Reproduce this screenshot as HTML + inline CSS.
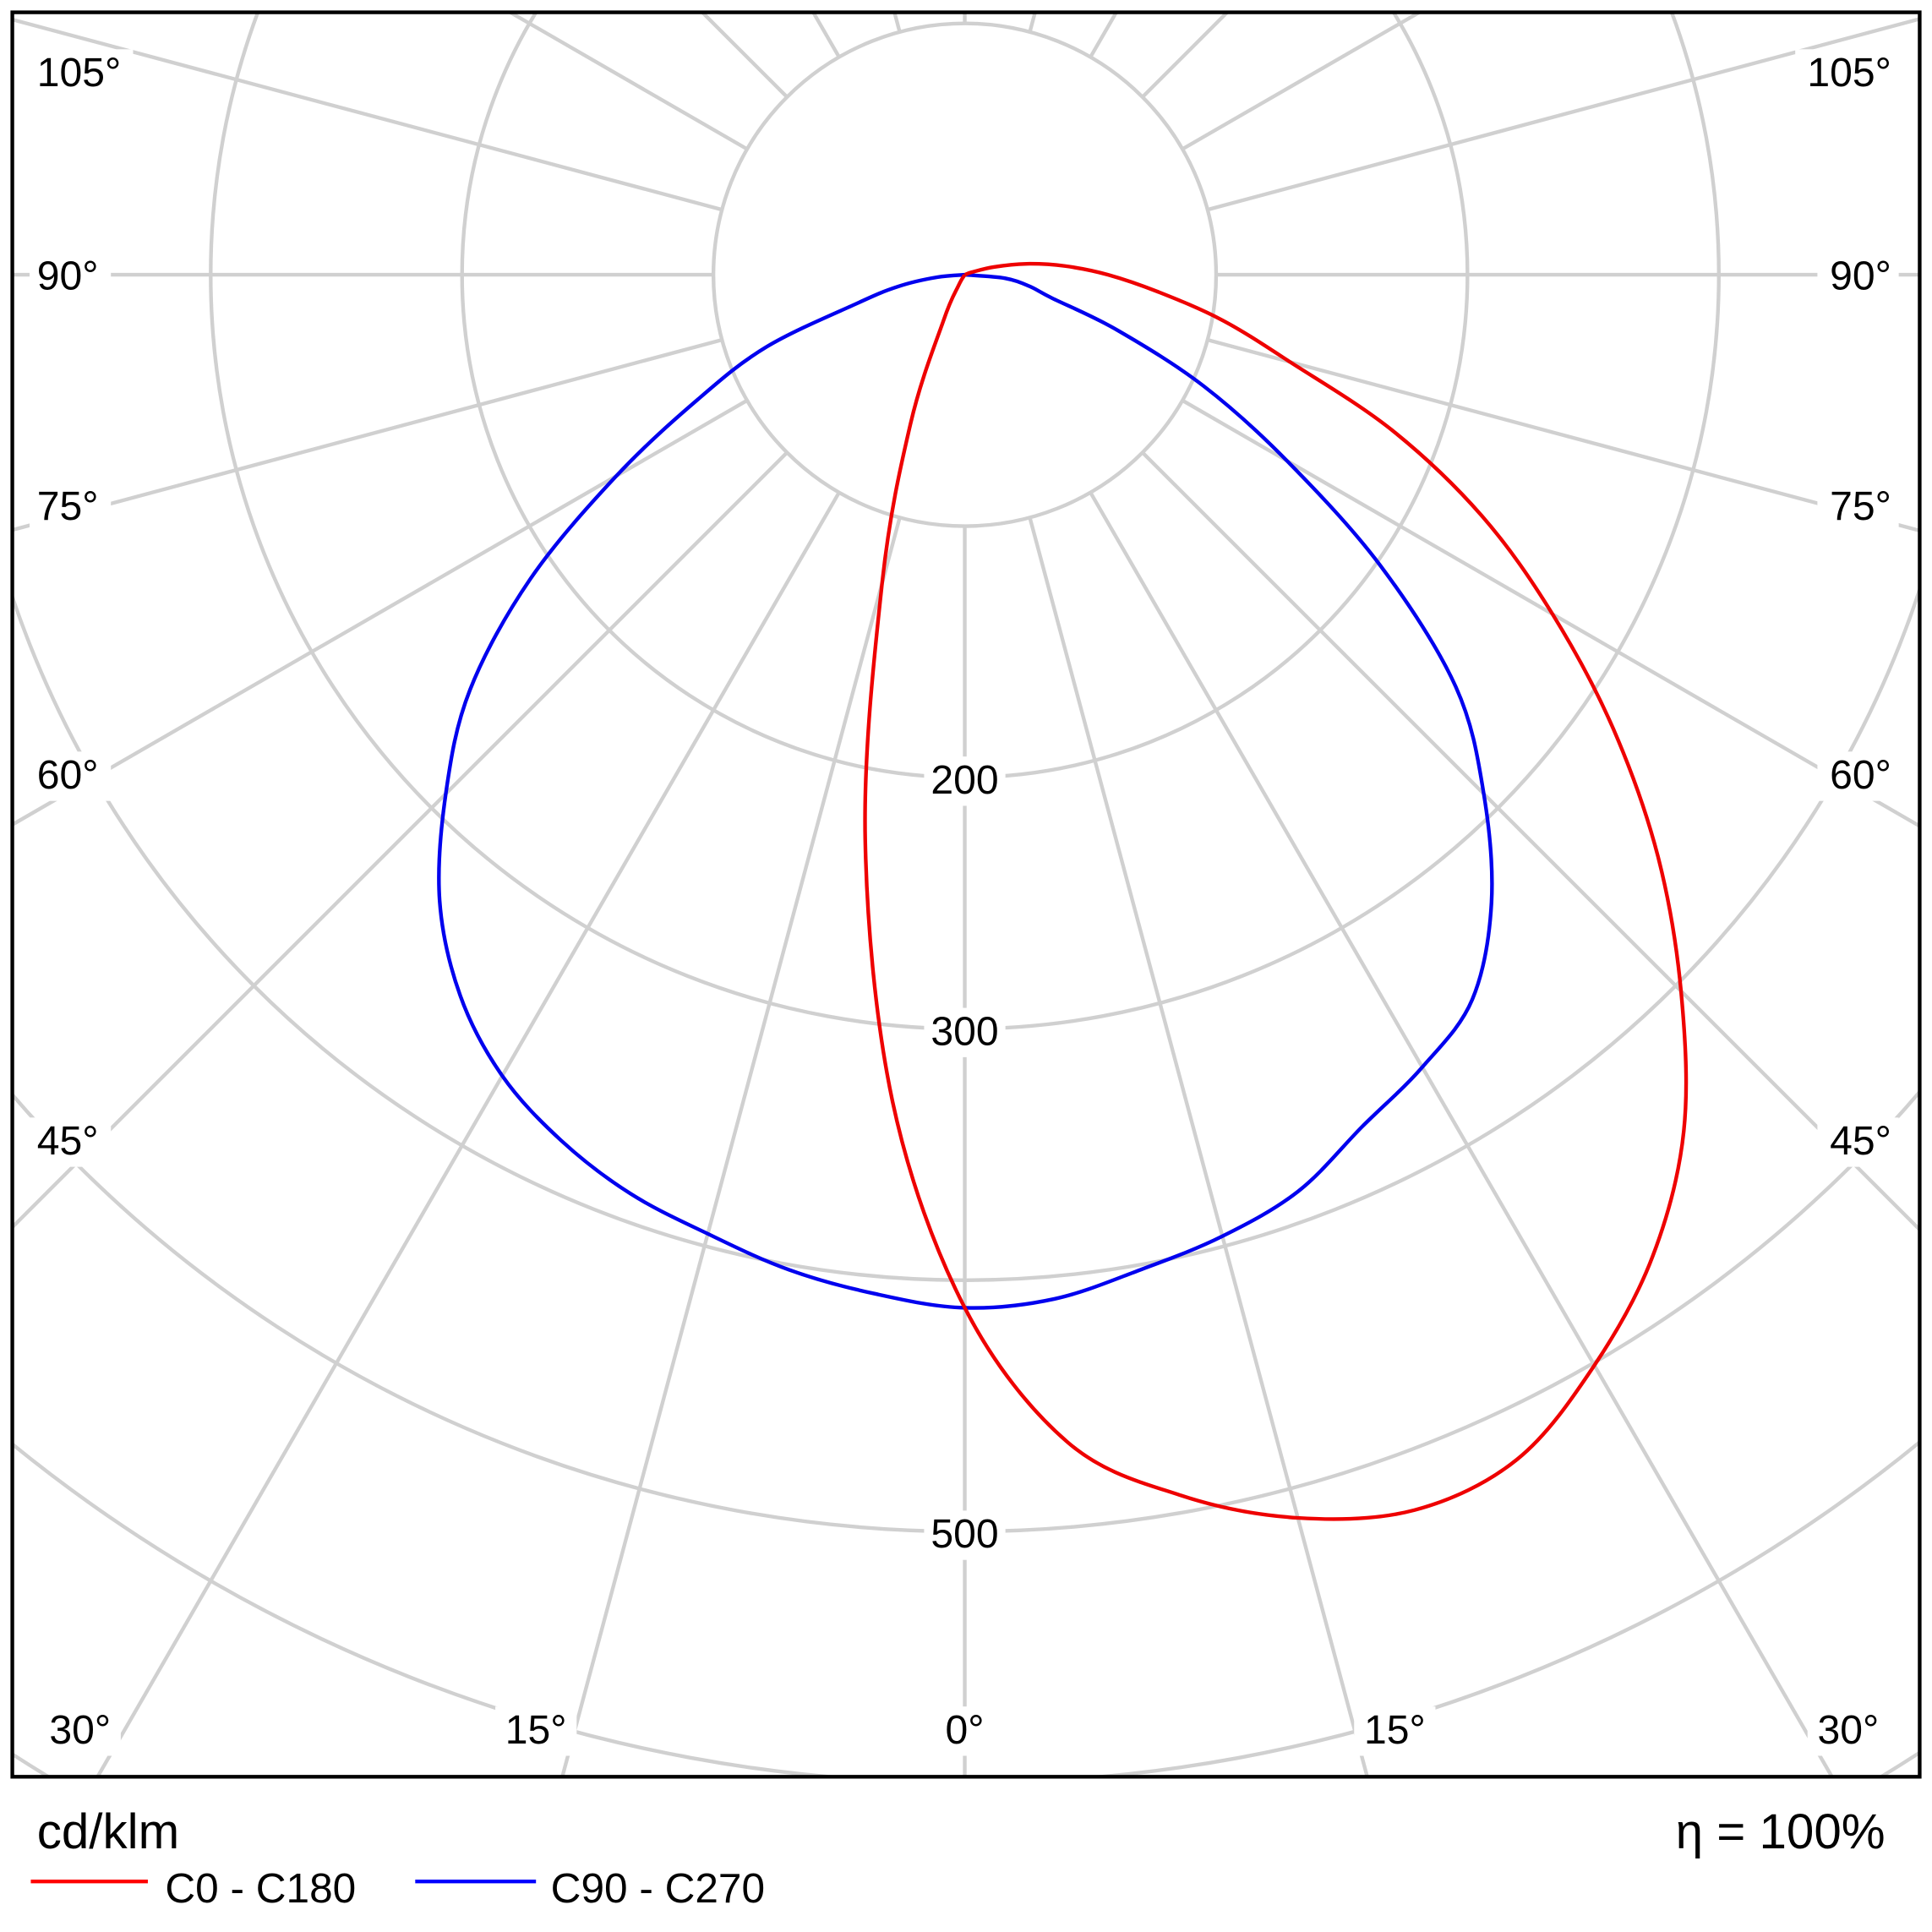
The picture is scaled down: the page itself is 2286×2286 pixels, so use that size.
<!DOCTYPE html>
<html><head><meta charset="utf-8"><style>
html,body{margin:0;padding:0;background:#fff;overflow:hidden;width:2286px;height:2286px;}
svg{display:block;}
text{font-family:"Liberation Sans","DejaVu Sans",sans-serif;}
</style></head><body>
<svg id="chart" width="2286" height="2286" viewBox="0 0 1568 1568" xmlns="http://www.w3.org/2000/svg">
<defs><clipPath id="clip"><rect x="10" y="10" width="1548" height="1432"/></clipPath></defs>
<rect x="0" y="0" width="1568" height="1568" fill="#fff"/>
<g id="grid" clip-path="url(#clip)"></g>
<g id="series" clip-path="url(#clip)"></g>
<g id="labels"></g>
<rect x="10" y="10" width="1548" height="1432" fill="none" stroke="#000" stroke-width="3"/>
<text x="30" y="1500" font-size="40">cd/klm</text>
<text x="1530" y="1500" font-size="40" text-anchor="end">η = 100%</text>
<line x1="25" y1="1527" x2="120" y2="1527" stroke="#f00" stroke-width="3"/>
<text x="134" y="1544" font-size="34">C0 - C180</text>
<line x1="337" y1="1527" x2="435" y2="1527" stroke="#00f" stroke-width="3"/>
<text x="447" y="1544" font-size="34">C90 - C270</text>
</svg>
<script>
const gammaAngles=[0,5,10,15,20,25,30,35,40,45,50,55,60,65,70,75,80,85,90,95,100,105,110,115];
const c0Values=[411,466,493,512,523,520,501,477,445,403,360,315,270,227,181,134,104,77,57,40,25,12,3,0];
const c180Values=[411,330,228,127,63,20,5,0];
const c90Values=[411,407,402,395,389,380,368,350,325,292,257,211,160,117,84,45,27,11,0];
const c270Values=[411,409,402,396,388,374,364,352,326,292,255,202,148,105,65,36,26,16,0];
const ringValues=[100,200,300,400,500,600,700];
const ringLabels=["200","300","500"];
const cx=783,cy=223,k=2.04;
const NS="http://www.w3.org/2000/svg";
function rScale(v){return v*k;}
function pt(g,v,side){const a=g*Math.PI/180,r=rScale(v);return [cx+side*r*Math.sin(a),cy+r*Math.cos(a)];}
function mk(tag,attrs,parent){const e=document.createElementNS(NS,tag);for(const a in attrs)e.setAttribute(a,attrs[a]);parent.appendChild(e);return e;}
const grid=document.getElementById('grid');
for(const v of ringValues){
 const c=mk('circle',{cx:cx,cy:cy,r:rScale(v),fill:'none',stroke:'#d0d0d0','stroke-width':3},grid);
 
 
}
for(let d=0;d<360;d+=15){
 const a=d*Math.PI/180,r0=rScale(100),r1=2000;
 const l=mk('line',{x1:cx+r0*Math.sin(a),y1:cy+r0*Math.cos(a),x2:cx+r1*Math.sin(a),y2:cy+r1*Math.cos(a),stroke:'#d0d0d0','stroke-width':3},grid);
 
 
}
function smooth(p){let d='M'+p[0][0].toFixed(1)+','+p[0][1].toFixed(1);
 for(let i=0;i<p.length-1;i++){const p0=p[Math.max(i-1,0)],p1=p[i],p2=p[i+1],p3=p[Math.min(i+2,p.length-1)];
 d+=' C'+(p1[0]+(p2[0]-p0[0])/6).toFixed(1)+','+(p1[1]+(p2[1]-p0[1])/6).toFixed(1)+' '+(p2[0]-(p3[0]-p1[0])/6).toFixed(1)+','+(p2[1]-(p3[1]-p1[1])/6).toFixed(1)+' '+p2[0].toFixed(1)+','+p2[1].toFixed(1);}
 return d;}
function curve(left,right,color,name){
 const pts=[];
 for(let i=left.length-1;i>=1;i--)pts.push(pt(gammaAngles[i],left[i],-1));
 for(let i=0;i<right.length;i++)pts.push(pt(gammaAngles[i],right[i],1));
 const p=mk('path',{d:smooth(pts),fill:'none',stroke:color,'stroke-width':3,'stroke-linejoin':'round'},document.getElementById('series'));
 
 
}
curve(c90Values,c270Values,'#0000ee','curve-c90-c270');
curve(c180Values,c0Values,'#ee0000','curve-c0-c180');
const labels=document.getElementById('labels');
function addLabel(x,y,t,anchor,name){
 const w=t.length*18+12;const lx=anchor==='middle'?x-w/2:(anchor==='end'?x-w+6:x-6);
 const bg=mk('rect',{x:lx,y:y-30,width:w,height:40,fill:'#fff'},labels);
 
 
 const e=mk('text',{x:x,y:y,'font-size':33,'text-anchor':anchor},labels);e.textContent=t;
 
 
}
for(const rl of ringLabels)addLabel(cx,cy+rScale(Number(rl))+13,rl,'middle','ring-label-'+rl);
const sideAngles=["105°","90°","75°","60°","45°"];
const sideY=[70,235,422,640,937];
sideAngles.forEach((t,i)=>{addLabel(30,sideY[i],t,'start','angle-label-left-'+i);addLabel(1535,sideY[i],t,'end','angle-label-right-'+i);});
const bottomAngles=["30°","15°","0°","15°","30°"];
const bottomX=[65,435,783,1132,1500];
bottomAngles.forEach((t,i)=>addLabel(bottomX[i],1415,t,'middle','angle-label-bottom-'+i));
</script>
</body></html>
